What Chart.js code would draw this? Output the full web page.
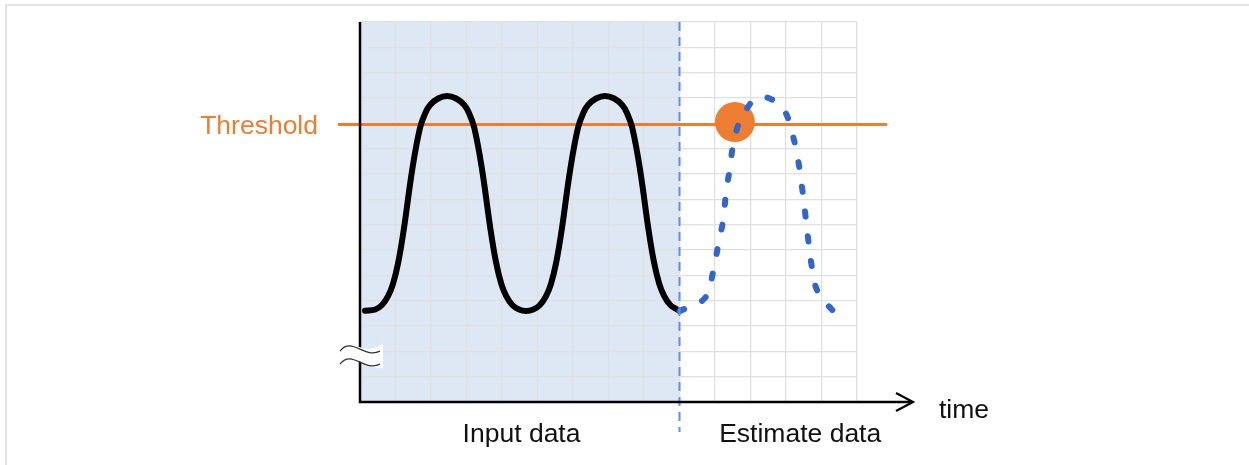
<!DOCTYPE html>
<html>
<head>
<meta charset="utf-8">
<script src="https://cdn.jsdelivr.net/npm/chart.js@4"></script>
<style>
  html, body { margin:0; padding:0; background:#fff; overflow:hidden; }
  #frame { position:absolute; left:5px; top:4px; width:1260px; height:480px;
           border-top:2px solid #e3e3e3; border-left:2px solid #e3e3e3; }
  #wrap { position:absolute; left:0; top:0; width:1249px; height:465px; }
</style>
</head>
<body>
<div id="frame"></div>
<div id="wrap"><canvas id="chart"></canvas></div>
<script>
  // input (measured) series, in grid units
  const inputTime  = [0.14, 0.43, 0.62, 0.79, 0.93, 1.08, 1.24, 1.47, 1.69, 1.84, 1.98, 2.20, 2.45,
                      2.71, 2.93, 3.07, 3.22, 3.44, 3.67, 3.83, 3.98, 4.12, 4.29, 4.48, 4.68,
                      4.88, 5.07, 5.24, 5.38, 5.53, 5.69, 5.92, 6.14, 6.29, 6.43, 6.65, 6.90,
                      7.16, 7.38, 7.52, 7.67, 7.89, 8.12, 8.28, 8.43, 8.57, 8.74, 8.93];
  const inputValue = [3.60, 3.65, 3.83, 4.18, 4.66, 5.53, 6.87, 9.16, 10.82, 11.41, 11.73, 11.98, 12.08,
                      11.98, 11.73, 11.41, 10.82, 9.16, 6.87, 5.53, 4.66, 4.18, 3.83, 3.65, 3.59,
                      3.65, 3.83, 4.18, 4.66, 5.53, 6.87, 9.16, 10.82, 11.41, 11.73, 11.98, 12.08,
                      11.98, 11.73, 11.41, 10.82, 9.16, 6.87, 5.53, 4.66, 4.18, 3.83, 3.65];

  // estimated series
  const estTime  = [9.0, 9.72, 9.94, 10.08, 10.23, 10.31, 10.42, 10.54, 10.79, 11.27, 11.89, 12.17, 12.34, 12.45, 12.54, 12.62, 12.73, 12.90, 13.38];
  const estValue = [3.58, 4.11, 5.09, 6.12, 7.19, 8.25, 9.24, 10.34, 11.33, 12.04, 11.61, 10.62, 9.55, 8.49, 7.46, 6.47, 5.33, 4.34, 3.51];

  const thresholdValue = 10.95;
  const thresholdSpan = [-0.62, 14.85];
  const crossPoint = { x: 10.56, y: 11.05 };
  const splitTime = 9;   // end of input data
  const timeMax = 14, valueMax = 15;

  const ORANGE = '#ed7d31';

  const toXY = (xs, ys) => xs.map((x, i) => ({ x, y: ys[i] }));

  const decor = {
    id: 'decor',
    beforeDraw(chart) {
      const { ctx, scales: { x, y } } = chart;
      ctx.save();
      ctx.fillStyle = '#dde8f4';
      ctx.fillRect(x.getPixelForValue(0), y.getPixelForValue(valueMax),
                   x.getPixelForValue(splitTime) - x.getPixelForValue(0),
                   y.getPixelForValue(0) - y.getPixelForValue(valueMax));
      ctx.restore();
    },
    afterDraw(chart) {
      const { ctx, scales: { x, y } } = chart;
      const x0 = x.getPixelForValue(0), y0 = y.getPixelForValue(0), yTop = y.getPixelForValue(valueMax);
      const xs = x.getPixelForValue(splitTime);
      ctx.save();
      // split line
      ctx.strokeStyle = '#5b8ff2';
      ctx.lineWidth = 2;
      ctx.setLineDash([9, 6]);
      ctx.beginPath(); ctx.moveTo(xs, yTop); ctx.lineTo(xs, y0 + 30); ctx.stroke();
      ctx.setLineDash([]);
      // axes
      ctx.strokeStyle = '#000';
      ctx.lineWidth = 2.5;
      ctx.beginPath(); ctx.moveTo(x0, yTop); ctx.lineTo(x0, y0); ctx.lineTo(x0 + 552, y0); ctx.stroke();
      ctx.lineWidth = 2.2;
      ctx.beginPath(); ctx.moveTo(x0 + 536, y0 - 9); ctx.lineTo(x0 + 553, y0); ctx.lineTo(x0 + 536, y0 + 9); ctx.stroke();
      // axis break mark
      const by = y.getPixelForValue(1.85);
      ctx.fillStyle = '#fff';
      ctx.beginPath();
      ctx.moveTo(x0 - 20, by - 4);
      ctx.bezierCurveTo(x0 - 8, by - 19, x0 + 4, by + 3, x0 + 23, by - 12);
      ctx.lineTo(x0 + 23, by + 13);
      ctx.bezierCurveTo(x0 + 4, by + 15, x0 - 8, by - 7, x0 - 20, by + 9);
      ctx.closePath();
      ctx.fill();
      ctx.strokeStyle = '#333';
      ctx.lineWidth = 1.3;
      ctx.beginPath();
      ctx.moveTo(x0 - 20, by - 4);
      ctx.bezierCurveTo(x0 - 8, by - 19, x0 + 4, by + 4, x0 + 20, by - 4);
      ctx.moveTo(x0 - 20, by + 9);
      ctx.bezierCurveTo(x0 - 8, by - 6, x0 + 4, by + 17, x0 + 20, by + 9);
      ctx.stroke();
      // texts
      ctx.font = '26.5px "Liberation Sans", Arial, sans-serif';
      ctx.textBaseline = 'alphabetic';
      ctx.fillStyle = ORANGE;
      ctx.textAlign = 'right';
      ctx.fillText('Threshold', x0 - 42, y.getPixelForValue(thresholdValue) + 9);
      ctx.fillStyle = '#111';
      ctx.textAlign = 'center';
      ctx.fillText('Input data', x.getPixelForValue(4.55), y0 + 40);
      ctx.fillText('Estimate data', x.getPixelForValue(12.4), y0 + 40);
      ctx.textAlign = 'left';
      ctx.fillText('time', x0 + 579, y0 + 16);
      ctx.restore();
    }
  };

  new Chart(document.getElementById('chart'), {
    type: 'line',
    data: {
      datasets: [
        { label: 'Threshold', data: toXY(thresholdSpan, [thresholdValue, thresholdValue]),
          borderColor: ORANGE, borderWidth: 3, pointRadius: 0, order: 4 },
        { label: 'Input data', data: toXY(inputTime, inputValue),
          borderColor: '#000', borderWidth: 6, pointRadius: 0, tension: 0.4,
          borderCapStyle: 'round', borderJoinStyle: 'round', order: 3 },
        { label: 'Cross', data: [crossPoint], showLine: false,
          pointRadius: 20, pointBackgroundColor: ORANGE, pointBorderWidth: 0, order: 2 },
        { label: 'Estimate data', data: toXY(estTime, estValue),
          borderColor: '#3366cc', borderWidth: 6, borderDash: [5, 20], borderCapStyle: 'round',
          pointRadius: 0, tension: 0.4, order: 1 }
      ]
    },
    options: {
      responsive: true,
      maintainAspectRatio: false,
      animation: false,
      clip: false,
      layout: { padding: { left: 360, right: 392, top: 22, bottom: 63 } },
      plugins: { legend: { display: false }, tooltip: { enabled: false } },
      scales: {
        x: { type: 'linear', min: 0, max: timeMax,
             ticks: { display: false, stepSize: 1 },
             grid: { color: '#e0e0e0', drawTicks: false, lineWidth: 1.3 }, border: { display: false } },
        y: { min: 0, max: valueMax,
             ticks: { display: false, stepSize: 1 },
             grid: { color: '#e0e0e0', drawTicks: false, lineWidth: 1.3 }, border: { display: false } }
      }
    },
    plugins: [decor]
  });
</script>
</body>
</html>
